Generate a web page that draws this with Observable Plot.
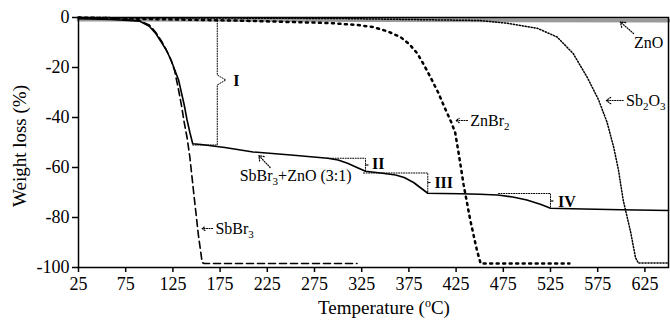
<!DOCTYPE html>
<html><head><meta charset="utf-8">
<script src="https://cdn.jsdelivr.net/npm/d3@7"></script>
<script src="https://cdn.jsdelivr.net/npm/@observablehq/plot@0.6"></script>
<style>body{margin:0;background:#fff} svg text{font-family:"Liberation Serif","Times New Roman",Times,"DejaVu Serif",serif}</style>
</head><body><div id="chart"></div>
<script>
// ---- data ----
const xTicks = [25, 75, 125, 175, 225, 275, 325, 375, 425, 475, 525, 575, 625];
const yTicks = [0, -20, -40, -60, -80, -100];

const mixT = [25, 60, 90, 100, 107, 113, 118, 123, 127, 131, 134, 137, 140, 143, 146, 155, 180, 210, 250, 289, 300, 310, 320, 329, 345, 361, 370, 380, 388, 395, 410, 430, 450, 469, 485, 500, 515, 525, 560, 600, 650];
const mixW = [-0.5, -0.8, -1.5, -3.5, -6.5, -10, -13, -17, -21, -25, -30, -35, -41, -46, -50.5, -50.8, -52, -53.8, -55, -56.3, -57, -58.3, -60, -61.5, -62.2, -63, -64, -66, -68.3, -70.3, -70.4, -70.5, -70.7, -71, -71.8, -73, -74.8, -76.3, -76.6, -76.9, -77.2];

const sbbr3T = [25, 60, 90, 100, 107, 113, 118, 123, 127, 131, 134, 137, 140, 143, 147, 152, 156, 158, 320];
const sbbr3W = [0, -0.4, -1.3, -3, -6, -9.5, -13, -17, -21.5, -29, -35, -42, -48, -56, -70, -87, -98, -98.4, -98.4];

const znbr2T = [25, 100, 200, 290, 320, 337, 352, 366, 375, 384, 391, 398, 406, 414, 420, 424, 428, 433, 440, 447, 451, 545];
const znbr2W = [0, -0.6, -1.3, -2.2, -3, -3.8, -5.5, -7.8, -10.5, -14.4, -19, -24, -30, -37, -42, -46, -55, -67, -81, -93, -98.4, -98.4];

const sb2o3T = [25, 300, 450, 479, 511, 532, 549, 564, 576, 585, 592, 597, 602, 610, 615, 618, 650];
const sb2o3W = [0, -0.4, -1.2, -2.3, -4.3, -7.8, -14.4, -24, -33, -42, -52, -61, -73, -86, -96, -98.2, -98.2];

const znoT = [25, 650];
const znoW = [-0.8, -1.2];

// annotation brackets (data coordinates)
const bracketI = [[146, -51], [172, -51], [172, -27], [181, -25], [172, -23], [172, -1.5]];
const bracketII = [[289, -56.3], [329, -56.3], [329, -59], [332, -59], [329, -59], [329, -61.7]];
const bracketIII = [[327, -62.2], [395, -62.2], [395, -66], [398, -66], [395, -66], [395, -70.3]];
const bracketIV = [[470, -70.4], [525, -70.4], [525, -73.4], [528, -73.4], [525, -73.4], [525, -76.3]];

const stageLabels = ["I", "II", "III", "IV"];
const stageX = [189, 336, 402, 533];
const stageY = [-25.2, -58.6, -66, -73.6];

const seriesLabels = ["ZnO", "Sb2O3", "ZnBr2", "SbBr3", "SbBr3+ZnO (3:1)"];
const labelX = [629, 605, 440, 170, 255];
const labelY = [-10, -33.2, -41.2, -84.4, -63.2];
const labelAnchor = ["middle", "start", "start", "start", "middle"];
const arrowX1 = [613, 602, 437, 167, 228];
const arrowY1 = [-6.4, -33.2, -41.2, -84.4, -60];
const arrowX2 = [599, 584, 425, 156, 216];
const arrowY2 = [-1.8, -33.2, -41.2, -84.4, -55.2];

// ---- build ----
const zip = (xs, ys) => xs.map((x, i) => ({x, y: ys[i]}));
const mix = zip(mixT, mixW), sbbr3 = zip(sbbr3T, sbbr3W), znbr2 = zip(znbr2T, znbr2W),
      sb2o3 = zip(sb2o3T, sb2o3W), zno = zip(znoT, znoW);
const br = b => b.map(([x, y]) => ({x, y}));
const stages = stageLabels.map((t, i) => ({t, x: stageX[i], y: stageY[i]}));
const labels = seriesLabels.map((t, i) => ({t, x: labelX[i], y: labelY[i], a: labelAnchor[i]}));
const arrows = seriesLabels.map((t, i) => ({x1: arrowX1[i], y1: arrowY1[i], x2: arrowX2[i], y2: arrowY2[i]}));

const font = "Liberation Serif, Times New Roman, Times, DejaVu Serif, serif";
const plot = Plot.plot({
  width: 670, height: 323,
  marginLeft: 78, marginRight: 2, marginTop: 17, marginBottom: 56,
  style: {fontFamily: font, fontSize: "18px", color: "#000", background: "#fff", overflow: "visible"},
  x: {domain: [25, 650]},
  y: {domain: [-100, 0]},
  marks: [
    Plot.axisX(xTicks, {tickSize: 5, tickPadding: 5, fontSize: 18, label: null, tickFormat: d => String(d), strokeWidth: 1.5}),
    Plot.axisY(yTicks, {tickSize: 6, tickPadding: 3, fontSize: 18, label: null, tickFormat: d => String(d), strokeWidth: 1.5}),
    Plot.line(zno, {x: "x", y: "y", stroke: "#9a9a9a", strokeWidth: 4}),
    Plot.line(sb2o3, {x: "x", y: "y", stroke: "#000", strokeWidth: 1.5, strokeDasharray: "1.2,1.8"}),
    Plot.line(znbr2, {x: "x", y: "y", stroke: "#000", strokeWidth: 2.5, strokeDasharray: "2,4.5"}),
    Plot.line(sbbr3, {x: "x", y: "y", stroke: "#000", strokeWidth: 1.6, strokeDasharray: "7,4"}),
    Plot.line(mix, {x: "x", y: "y", stroke: "#000", strokeWidth: 1.6}),
    ...[bracketI, bracketII, bracketIII, bracketIV].map(b =>
      Plot.line(br(b), {x: "x", y: "y", stroke: "#000", strokeWidth: 1, strokeDasharray: "1,1.5", curve: "linear"})),
    Plot.arrow(arrows, {x1: "x1", y1: "y1", x2: "x2", y2: "y2", stroke: "#000", strokeWidth: 1.2, strokeDasharray: "1,1.5", headLength: 7, headAngle: 70}),
    Plot.text(stages, {x: "x", y: "y", text: "t", textAnchor: "start", fontSize: 16, fontWeight: "bold", fill: "#000"}),
    Plot.text(labels.filter(d => d.a === "start"), {x: "x", y: "y", text: "t", textAnchor: "start", fontSize: 16, fill: "#000"}),
    Plot.text(labels.filter(d => d.a === "middle"), {x: "x", y: "y", text: "t", textAnchor: "middle", fontSize: 16, fill: "#000"}),
    Plot.frame({stroke: "#000", strokeWidth: 1.5})
  ]
});

// subscripts in chemical formulas
const svg = d3.select(plot);
svg.selectAll("text").each(function () {
  const t = this.textContent;
  if (!seriesLabels.includes(t) || !/[A-Za-z]\d/.test(t)) return;
  const el = d3.select(this);
  el.text(null);
  let buf = "", shifted = false;
  const flush = () => { if (buf) { const s = el.append("tspan").text(buf); if (shifted) { s.attr("dy", -4); shifted = false; } buf = ""; } };
  for (let i = 0; i < t.length; i++) {
    const c = t[i];
    if (/\d/.test(c) && i > 0 && /[A-Za-z]/.test(t[i - 1])) {
      flush();
      el.append("tspan").attr("dy", 4).attr("font-size", 11).text(c);
      shifted = true;
    } else buf += c;
  }
  flush();
});

// axis titles
const xt = svg.append("text").attr("x", 384).attr("y", 314).attr("text-anchor", "middle")
  .attr("font-family", font).attr("font-size", 19).attr("fill", "#000");
xt.append("tspan").text("Temperature (");
xt.append("tspan").attr("dy", -7).attr("font-size", 12).text("o");
xt.append("tspan").attr("dy", 7).text("C)");
svg.append("text").attr("transform", "translate(26,146) rotate(-90)").attr("text-anchor", "middle")
  .attr("font-family", font).attr("font-size", 19).attr("fill", "#000").text("Weight loss (%)");

document.getElementById("chart").appendChild(plot);
</script>
</body></html>
